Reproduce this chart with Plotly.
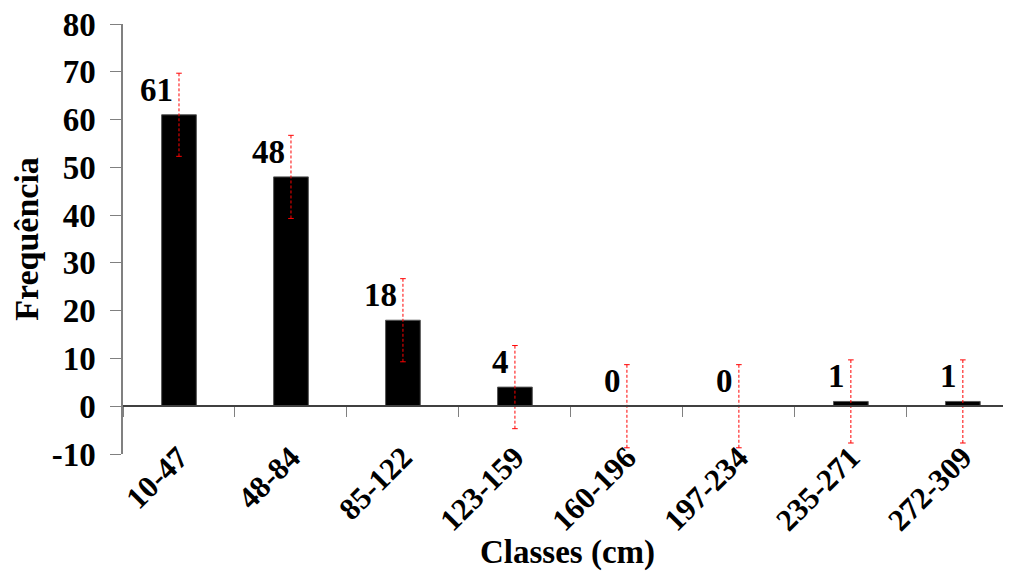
import plotly.graph_objects as go

categories = ["10-47", "48-84", "85-122", "123-159", "160-196", "197-234", "235-271", "272-309"]
frequencies = [61, 48, 18, 4, 0, 0, 1, 1]
errors = [8.7, 8.7, 8.7, 8.7, 8.7, 8.7, 8.7, 8.7]
y_ticks = [-10, 0, 10, 20, 30, 40, 50, 60, 70, 80]
y_tick_text = ["-10", "0", "10", "20", "30", "40", "50", "60", "70", "80"]

FONT = "Liberation Serif, Times New Roman, serif"
Y_MIN, Y_MAX = -10, 80

fig = go.Figure()
fig.add_trace(go.Bar(
    x=categories, y=frequencies, width=0.31,
    marker=dict(color="black", line=dict(color="#555555", width=1)),
    showlegend=False, hoverinfo="skip",
))

# dashed red error bars
ex, ey = [], []
cx, cy = [], []
for c, v, e in zip(categories, frequencies, errors):
    ex += [c, c, None]
    ey += [v - e, v + e, None]
    cx += [c, c]
    cy += [v - e, v + e]
fig.add_trace(go.Scatter(x=ex, y=ey, mode="lines",
                         line=dict(color="red", width=1, dash="3px,2px"),
                         showlegend=False, hoverinfo="skip"))
fig.add_trace(go.Scatter(x=cx, y=cy, mode="markers",
                         marker=dict(symbol="line-ew", size=4, line=dict(color="red", width=1)),
                         showlegend=False, hoverinfo="skip"))

for c, v in zip(categories, frequencies):
    fig.add_annotation(x=c, y=v, text=str(v), showarrow=False,
                       xanchor="right", yanchor="bottom", xshift=-4, yshift=5,
                       font=dict(family=FONT, size=33, color="black", weight="bold"))

fig.add_annotation(x=0.5, y=-0.228, xref="paper", yref="paper", text="Classes (cm)",
                   showarrow=False, xanchor="center", yanchor="middle",
                   font=dict(family=FONT, size=33, color="black", weight="bold"))

zero_pos = (0 - Y_MIN) / (Y_MAX - Y_MIN)

# page body has an 8px default margin, so the figure is drawn 8px smaller
fig.update_layout(
    width=1003, height=567,
    margin=dict(l=115, r=0, t=16, b=121, autoexpand=False),
    plot_bgcolor="white", paper_bgcolor="white",
    font=dict(family=FONT, size=33, color="black", weight="bold"),
    xaxis=dict(
        type="category", range=[-0.5, 7.43],
        anchor="free", position=zero_pos, automargin=False,
        showline=True, linecolor="#404040", linewidth=1.5,
        ticks="outside", tickson="boundaries", ticklen=10, tickcolor="#808080",
        tickangle=-45, ticklabelstandoff=20, ticklabeloverflow="allow",
        tickfont=dict(family=FONT, size=31, color="black", weight="bold"),
        showgrid=False, zeroline=False,
    ),
    yaxis=dict(
        range=[Y_MIN, Y_MAX], tickvals=y_ticks, ticktext=y_tick_text, automargin=False,
        showline=True, linecolor="#808080", linewidth=1.5,
        ticks="outside", ticklen=11, tickcolor="#808080",
        ticklabelstandoff=8, ticklabeloverflow="allow",
        tickfont=dict(family=FONT, size=33, color="black", weight="bold"),
        showgrid=False, zeroline=False,
        title=dict(text="Frequência", standoff=4,
                   font=dict(family=FONT, size=34, color="black", weight="bold")),
    ),
    bargap=0.69,
)

fig.write_html("out.html")
